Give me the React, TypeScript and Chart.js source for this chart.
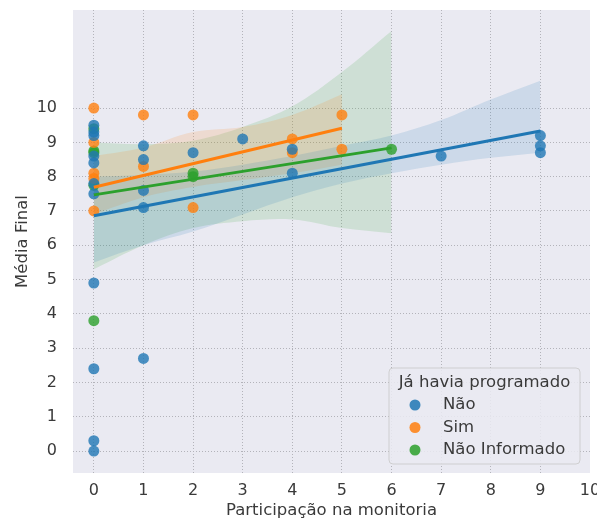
import React, { useEffect, useRef } from "react";
import { Chart, registerables } from "chart.js";

Chart.register(...registerables);

// ---------- data ----------
const X_TICKS = [0, 1, 2, 3, 4, 5, 6, 7, 8, 9, 10];
const Y_TICKS = [0, 1, 2, 3, 4, 5, 6, 7, 8, 9, 10];
const X_MIN = -0.42;
const X_MAX = 10;
const Y_MIN = -0.64;
const Y_MAX = 12.86;

const SERIES_NAMES = ["Não", "Sim", "Não Informado"];
const LEGEND_TITLE = "Já havia programado";
const X_TITLE = "Participação na monitoria";
const Y_TITLE = "Média Final";

// scatter points
const NAO_X = [0, 0, 0, 0, 0, 0, 0, 0, 0, 0, 0, 1, 1, 1, 1, 1, 2, 3, 4, 4, 7, 9, 9, 9];
const NAO_Y = [9.5, 9.3, 9.2, 8.6, 8.4, 7.8, 7.5, 4.9, 2.4, 0.3, 0.0, 8.9, 8.5, 7.6, 7.1, 2.7, 8.7, 9.1, 8.8, 8.1, 8.6, 9.2, 8.9, 8.7];

const SIM_X = [0, 0, 0, 0, 0, 1, 1, 2, 2, 4, 4, 5, 5];
const SIM_Y = [10.0, 9.0, 8.1, 7.95, 7.0, 9.8, 8.3, 9.8, 7.1, 9.1, 8.7, 9.8, 8.8];

const NI_X = [0, 0, 0, 0, 0, 2, 2, 6];
const NI_Y = [9.4, 8.75, 8.7, 7.75, 3.8, 8.1, 8.0, 8.8];

// regression lines
const NAO_FIT_X = [0, 9];
const NAO_FIT_Y = [6.86, 9.33];
const SIM_FIT_X = [0, 5];
const SIM_FIT_Y = [7.69, 9.41];
const NI_FIT_X = [0, 6];
const NI_FIT_Y = [7.47, 8.84];

// confidence bands
const NAO_BAND_X = [0, 1, 2, 3, 4, 5, 6, 7, 8, 9];
const NAO_BAND_LO = [5.5, 6.0, 6.4, 6.9, 7.4, 7.8, 8.1, 8.35, 8.55, 8.7];
const NAO_BAND_HI = [8.0, 8.05, 8.15, 8.35, 8.6, 8.9, 9.2, 9.65, 10.25, 10.8];

const SIM_BAND_X = [0, 1, 2, 3, 4, 5];
const SIM_BAND_LO = [6.9, 7.4, 7.7, 7.9, 8.1, 8.35];
const SIM_BAND_HI = [8.6, 8.85, 9.3, 9.45, 9.8, 10.4];

const NI_BAND_X = [0, 1, 2, 3, 4, 5, 6];
const NI_BAND_LO = [5.3, 6.0, 6.5, 6.7, 6.75, 6.5, 6.35];
const NI_BAND_HI = [9.0, 8.95, 9.05, 9.45, 10.05, 11.05, 12.25];

// ---------- styles ----------
const COLORS = ["31,119,180", "255,127,14", "44,160,44"];
const FONT = "'DejaVu Sans', 'Liberation Sans', sans-serif";
const TEXT = "#3a3a3a";
const GRID = "#b3b3ba";
const BG = "#EAEAF2";

const pts = (xs: number[], ys: number[]) => xs.map((x, i) => ({ x, y: ys[i] }));

const bgPlugin = {
  id: "bgPlugin",
  beforeDraw(chart: any) {
    const { ctx, chartArea } = chart;
    ctx.save();
    ctx.fillStyle = BG;
    ctx.fillRect(chartArea.left, chartArea.top, chartArea.right - chartArea.left, chartArea.bottom - chartArea.top);
    ctx.restore();
  },
};

const legendPlugin = {
  id: "boxLegend",
  afterDraw(chart: any) {
    const { ctx, chartArea } = chart;
    const w = 191;
    const h = 96;
    const x0 = chartArea.right - 10 - w;
    const y0 = chartArea.bottom - 9 - h;
    ctx.save();
    ctx.beginPath();
    const r = 4;
    ctx.moveTo(x0 + r, y0);
    ctx.lineTo(x0 + w - r, y0);
    ctx.quadraticCurveTo(x0 + w, y0, x0 + w, y0 + r);
    ctx.lineTo(x0 + w, y0 + h - r);
    ctx.quadraticCurveTo(x0 + w, y0 + h, x0 + w - r, y0 + h);
    ctx.lineTo(x0 + r, y0 + h);
    ctx.quadraticCurveTo(x0, y0 + h, x0, y0 + h - r);
    ctx.lineTo(x0, y0 + r);
    ctx.quadraticCurveTo(x0, y0, x0 + r, y0);
    ctx.closePath();
    ctx.fillStyle = "rgba(234,234,242,0.85)";
    ctx.fill();
    ctx.strokeStyle = "rgba(204,204,204,0.9)";
    ctx.lineWidth = 1;
    ctx.stroke();

    ctx.font = `16.5px ${FONT}`;
    ctx.fillStyle = TEXT;
    ctx.textBaseline = "middle";
    ctx.textAlign = "center";
    ctx.fillText(LEGEND_TITLE, x0 + w / 2, y0 + 15);
    ctx.textAlign = "left";
    SERIES_NAMES.forEach((name, i) => {
      const cy = y0 + 37 + i * 22.5;
      ctx.beginPath();
      ctx.arc(x0 + 26, cy, 5.5, 0, Math.PI * 2);
      ctx.fillStyle = `rgba(${COLORS[i]},0.85)`;
      ctx.fill();
      ctx.fillStyle = TEXT;
      ctx.fillText(name, x0 + 54, cy);
    });
    ctx.restore();
  },
};

export default function App() {
  const ref = useRef<HTMLCanvasElement | null>(null);

  useEffect(() => {
    if (!ref.current) return;
    const bandSets = (i: number, xs: number[], lo: number[], hi: number[]) => [
      {
        type: "line",
        data: pts(xs, hi),
        borderWidth: 0,
        pointRadius: 0,
        tension: 0.35,
        backgroundColor: `rgba(${COLORS[i]},0.15)`,
        borderColor: "transparent",
        fill: "+1",
        order: 3,
      },
      {
        type: "line",
        data: pts(xs, lo),
        borderWidth: 0,
        pointRadius: 0,
        tension: 0.35,
        borderColor: "transparent",
        fill: false,
        order: 3,
      },
    ];
    const scatterSet = (i: number, xs: number[], ys: number[]) => ({
      type: "line",
      data: pts(xs, ys),
      showLine: false,
      pointRadius: 5.5,
      pointBorderWidth: 0,
      pointBackgroundColor: `rgba(${COLORS[i]},0.8)`,
      borderColor: `rgb(${COLORS[i]})`,
      order: 2,
    });
    const lineSet = (i: number, xs: number[], ys: number[]) => ({
      type: "line",
      data: pts(xs, ys),
      borderWidth: 3,
      pointRadius: 0,
      borderColor: `rgb(${COLORS[i]})`,
      fill: false,
      order: 1,
    });

    const chart = new Chart(ref.current, {
      type: "line",
      data: {
        datasets: [
          ...bandSets(0, NAO_BAND_X, NAO_BAND_LO, NAO_BAND_HI),
          ...bandSets(1, SIM_BAND_X, SIM_BAND_LO, SIM_BAND_HI),
          ...bandSets(2, NI_BAND_X, NI_BAND_LO, NI_BAND_HI),
          scatterSet(0, NAO_X, NAO_Y),
          scatterSet(1, SIM_X, SIM_Y),
          scatterSet(2, NI_X, NI_Y),
          lineSet(0, NAO_FIT_X, NAO_FIT_Y),
          lineSet(1, SIM_FIT_X, SIM_FIT_Y),
          lineSet(2, NI_FIT_X, NI_FIT_Y),
        ] as any,
      },
      options: {
        responsive: false,
        animation: false,
        events: [],
        layout: { padding: { top: 10, right: 7, left: 0, bottom: 0 } },
        plugins: {
          legend: { display: false },
          tooltip: { enabled: false },
        },
        scales: {
          x: {
            type: "linear",
            min: X_MIN,
            max: X_MAX,
            afterBuildTicks: (s: any) => {
              s.ticks = X_TICKS.map((v) => ({ value: v }));
            },
            afterFit: (s: any) => {
              s.height = 46;
              s.paddingLeft = 0;
              s.paddingRight = 0;
            },
            grid: {
              color: (c: any) => (c.tick && c.tick.value === X_MAX ? "rgba(0,0,0,0)" : GRID),
              lineWidth: 1,
              drawTicks: false,
            },
            border: { display: false, dash: [1, 2] },
            ticks: {
              color: TEXT,
              padding: 8,
              maxRotation: 0,
              autoSkip: false,
              font: { family: FONT, size: 16 },
            },
            title: {
              display: true,
              text: X_TITLE,
              color: TEXT,
              font: { family: FONT, size: 16.5, lineHeight: 1 },
              padding: { top: 0, bottom: 0 },
            },
          },
          y: {
            type: "linear",
            min: Y_MIN,
            max: Y_MAX,
            afterBuildTicks: (s: any) => {
              s.ticks = Y_TICKS.map((v) => ({ value: v }));
            },
            afterFit: (s: any) => {
              s.width = 73;
              s.paddingTop = 0;
              s.paddingBottom = 0;
            },
            grid: {
              color: GRID,
              lineWidth: 1,
              drawTicks: false,
            },
            border: { display: false, dash: [1, 2] },
            ticks: {
              color: TEXT,
              padding: 16,
              autoSkip: false,
              font: { family: FONT, size: 16 },
            },
            title: {
              display: true,
              text: Y_TITLE,
              color: TEXT,
              font: { family: FONT, size: 16.5, lineHeight: 1.2 },
              padding: { top: 13, bottom: 0 },
            },
          },
        },
      } as any,
      plugins: [bgPlugin, legendPlugin],
    });
    return () => chart.destroy();
  }, []);

  return (
    <div style={{ position: "fixed", left: 0, top: 0, width: 597, height: 519, background: "#fff" }}>
      <canvas ref={ref} width={597} height={519} style={{ display: "block" }} />
    </div>
  );
}
